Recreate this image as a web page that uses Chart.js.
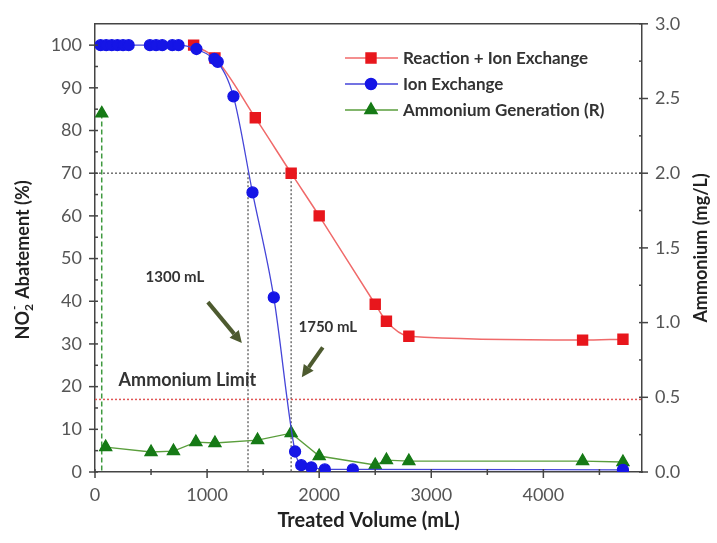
<!DOCTYPE html>
<html lang="en">
<head>
    <meta charset="UTF-8">
    <script src="https://cdn.jsdelivr.net/npm/chart.js"></script>
    <title>NO2- Abatement vs Treated Volume</title>
    <style>
        html, body { margin: 0; padding: 0; background: #fff; }
        #wrap { width: 717px; height: 543px; }
    </style>
</head>
<body>
    <div id="wrap"><canvas id="myChart" width="717" height="543"></canvas></div>
    <script>
        // Ion exchange only (left axis, %)
        const ionVolume = [50, 100, 150, 200, 250, 300, 490, 545, 600, 690, 745, 905, 1065, 1095, 1235, 1405, 1595, 1785, 1840, 1930, 2050, 2300, 4710];
        const ionAbatement = [100, 100, 100, 100, 100, 100, 100, 100, 100, 100, 100, 99.1, 96.8, 96.1, 88, 65.5, 40.9, 4.8, 1.6, 1.1, 0.6, 0.6, 0.5];

        // Reaction + ion exchange (left axis, %)
        const reactVolume = [880, 1070, 1430, 1750, 2000, 2500, 2600, 2800, 4350, 4710];
        const reactAbatement = [100, 97, 83, 70, 60, 39.3, 35.3, 31.8, 30.9, 31.1];

        // Ammonium generated by the reaction (right axis, mg/L)
        const ammVolume = [60, 95, 500, 700, 900, 1070, 1450, 1750, 2000, 2500, 2600, 2800, 4350, 4710];
        const ammConc = [2.40, 0.167, 0.134, 0.14, 0.20, 0.194, 0.214, 0.26, 0.107, 0.047, 0.08, 0.073, 0.073, 0.067];

        // tick labels
        const xTicks = [0, 1000, 2000, 3000, 4000];
        const yTicks = [0, 10, 20, 30, 40, 50, 60, 70, 80, 90, 100];
        const y1Ticks = [0, 0.5, 1, 1.5, 2, 2.5, 3];

        // reference levels
        const breakLevel = 70;             // % abatement
        const breakVolumes = [1365, 1750]; // mL
        const limitLevel = 17;             // % scale, = 0.5 mg/L ammonium limit

        const xMax = 4880, yMax = 105, y1Max = 3;

        const FONT = 'Lato, "DejaVu Sans", sans-serif';
        const AXIS = '#444';
        const xy = (xs, ys) => xs.map((v, i) => ({ x: v, y: ys[i] }));

        function line(ctx, x1, y1, x2, y2) {
            ctx.beginPath(); ctx.moveTo(x1, y1); ctx.lineTo(x2, y2); ctx.stroke();
        }

        function arrow(ctx, x1, y1, x2, y2) {
            const ang = Math.atan2(y2 - y1, x2 - x1);
            const hl = 12, hw = 6;
            const bx = x2 - hl * Math.cos(ang), by = y2 - hl * Math.sin(ang);
            ctx.lineWidth = 4;
            line(ctx, x1, y1, bx, by);
            ctx.beginPath();
            ctx.moveTo(x2, y2);
            ctx.lineTo(bx + hw * Math.sin(ang), by - hw * Math.cos(ang));
            ctx.lineTo(bx - hw * Math.sin(ang), by + hw * Math.cos(ang));
            ctx.closePath();
            ctx.fill();
        }

        const legendItems = [
            { text: 'Reaction + Ion Exchange', line: '#f06a6a', fill: '#e8161c', style: 'rect', r: 7 },
            { text: 'Ion Exchange', line: '#4545d8', fill: '#1515e6', style: 'circle', r: 5.5 },
            { text: 'Ammonium Generation (R)', line: '#5a9e3c', fill: '#167a16', style: 'triangle', r: 7 }
        ];

        const overlay = {
            id: 'overlay',
            beforeDatasetsDraw(chart) {
                const { ctx, chartArea: a, scales: { x, y, y1 } } = chart;
                ctx.save();
                ctx.lineWidth = 1.5;
                ctx.setLineDash([2, 2]);
                ctx.strokeStyle = '#707070';
                const y70 = y.getPixelForValue(breakLevel);
                line(ctx, a.left, y70, a.right, y70);
                breakVolumes.forEach(v => {
                    const px = x.getPixelForValue(v);
                    line(ctx, px, y70, px, a.bottom);
                });
                ctx.strokeStyle = '#e05656';
                const yl = y.getPixelForValue(limitLevel);
                line(ctx, a.left, yl, a.right, yl);
                // drop line under the first ammonium point
                ctx.setLineDash([5, 3]);
                ctx.strokeStyle = '#3f9a3f';
                const gx = x.getPixelForValue(ammVolume[0]);
                line(ctx, gx, y1.getPixelForValue(ammConc[0]), gx, a.bottom);
                ctx.restore();
            },
            afterDatasetsDraw(chart) {
                const { ctx, chartArea: a, scales: { x, y, y1 } } = chart;
                ctx.save();

                // frame + tick marks
                ctx.strokeStyle = AXIS;
                ctx.lineWidth = 1.5;
                line(ctx, a.left, a.top, a.right, a.top);
                for (let v = 0; v <= xMax; v += 500) {
                    const px = x.getPixelForValue(v);
                    const major = v % 1000 === 0;
                    line(ctx, px, a.bottom - 3, px, a.bottom + (major ? 6 : 3));
                }
                for (let v = 0; v <= 100; v += 5) {
                    const py = y.getPixelForValue(v);
                    const major = v % 10 === 0;
                    line(ctx, a.left - (major ? 6 : 0), py, a.left + 3, py);
                }
                for (let v = 0; v <= y1Max + 1e-9; v += 0.25) {
                    const py = y1.getPixelForValue(v);
                    const major = Math.abs(v * 2 - Math.round(v * 2)) < 1e-6;
                    line(ctx, a.right - 3, py, a.right + (major ? 6 : 0), py);
                }

                // arrows and notes
                ctx.fillStyle = ctx.strokeStyle = '#4d5a2f';
                arrow(ctx, x.getPixelForValue(1007), y.getPixelForValue(39.8), x.getPixelForValue(1310), y.getPixelForValue(30.2));
                arrow(ctx, x.getPixelForValue(2032), y.getPixelForValue(29.2), x.getPixelForValue(1845), y.getPixelForValue(22.2));

                ctx.fillStyle = '#333';
                ctx.font = 'bold 15px ' + FONT;
                ctx.textAlign = 'center';
                ctx.textBaseline = 'middle';
                ctx.fillText('1300 mL', x.getPixelForValue(713), y.getPixelForValue(45.6));
                ctx.fillText('1750 mL', x.getPixelForValue(2077), y.getPixelForValue(33.9));
                ctx.font = 'bold 18px ' + FONT;
                ctx.fillText('Ammonium Limit', x.getPixelForValue(824), y.getPixelForValue(21.5));

                // legend
                ctx.textAlign = 'left';
                ctx.font = 'bold 17px ' + FONT;
                legendItems.forEach((it, i) => {
                    const ly = 58 + i * 26;
                    ctx.strokeStyle = it.line;
                    ctx.lineWidth = 1.5;
                    line(ctx, 345, ly, 398, ly);
                    ctx.fillStyle = it.fill;
                    ctx.strokeStyle = it.fill;
                    Chart.helpers.drawPoint(ctx, { pointStyle: it.style, radius: it.r, borderWidth: 1 }, 371, ly);
                    ctx.fillStyle = '#333';
                    ctx.fillText(it.text, 403, ly + 1);
                });

                // axis titles
                ctx.fillStyle = '#222';
                ctx.textBaseline = 'middle';
                ctx.font = 'bold 20px ' + FONT;
                ctx.textAlign = 'center';
                ctx.fillText('Treated Volume (mL)', (a.left + a.right) / 2, 521);

                ctx.font = 'bold 18px ' + FONT;
                ctx.save();
                ctx.translate(701, (a.top + a.bottom) / 2);
                ctx.rotate(-Math.PI / 2);
                ctx.fillText('Ammonium (mg/L)', 0, 0);
                ctx.restore();

                ctx.save();
                ctx.translate(23, (a.top + a.bottom) / 2 + 12);
                ctx.rotate(-Math.PI / 2);
                const big = 'bold 18px ' + FONT, small = 'bold 12px ' + FONT;
                ctx.font = big;
                const wNO = ctx.measureText('NO').width;
                const wRest = ctx.measureText(' Abatement (%)').width;
                ctx.font = small;
                const w2 = ctx.measureText('2').width + 1;
                let sx = -(wNO + w2 + wRest) / 2;
                ctx.textAlign = 'left';
                ctx.font = big;
                ctx.fillText('NO', sx, 0);
                ctx.font = small;
                ctx.fillText('2', sx + wNO, 6);
                ctx.fillText('-', sx + wNO + 1, -9);
                ctx.font = big;
                ctx.fillText(' Abatement (%)', sx + wNO + w2, 0);
                ctx.restore();

                ctx.restore();
            }
        };

        const tickFont = { family: FONT, size: 18 };
        const fixTicks = values => scale => { scale.ticks = values.map(v => ({ value: v })); };

        const ctx = document.getElementById('myChart').getContext('2d');
        const chart = new Chart(ctx, {
            type: 'scatter',
            data: {
                datasets: [{
                    label: 'Ion Exchange',
                    data: xy(ionVolume, ionAbatement),
                    yAxisID: 'y',
                    showLine: true,
                    cubicInterpolationMode: 'monotone',
                    borderColor: '#4545d8',
                    borderWidth: 1.3,
                    backgroundColor: '#1515e6',
                    pointBorderColor: '#1515e6',
                    pointStyle: 'circle',
                    pointRadius: 5.5,
                    order: 0
                }, {
                    label: 'Ammonium Generation (R)',
                    data: xy(ammVolume, ammConc),
                    yAxisID: 'y1',
                    showLine: true,
                    borderColor: '#5a9e3c',
                    borderWidth: 1.3,
                    backgroundColor: '#167a16',
                    pointBorderColor: '#167a16',
                    pointStyle: 'triangle',
                    pointRadius: 7,
                    segment: {
                        borderColor: c => c.p0DataIndex === 0 ? 'rgba(0,0,0,0)' : undefined
                    },
                    order: 1
                }, {
                    label: 'Reaction + Ion Exchange',
                    data: xy(reactVolume, reactAbatement),
                    yAxisID: 'y',
                    showLine: true,
                    cubicInterpolationMode: 'monotone',
                    borderColor: '#f06a6a',
                    borderWidth: 1.5,
                    backgroundColor: '#e8161c',
                    pointBorderColor: '#e8161c',
                    pointStyle: 'rect',
                    pointRadius: 7,
                    order: 2
                }]
            },
            options: {
                responsive: false,
                animation: false,
                layout: { padding: { top: 23, left: 0, right: 0, bottom: 0 } },
                plugins: { legend: { display: false }, tooltip: { enabled: false } },
                scales: {
                    x: {
                        type: 'linear',
                        min: 0,
                        max: xMax,
                        afterBuildTicks: fixTicks(xTicks),
                        afterFit: s => { s.height = 71; },
                        grid: { display: false, drawTicks: false },
                        border: { display: true, color: AXIS, width: 1.5 },
                        ticks: { padding: 12, color: '#555', font: tickFont, callback: v => String(v) }
                    },
                    y: {
                        position: 'left',
                        min: 0,
                        max: yMax,
                        afterBuildTicks: fixTicks(yTicks),
                        afterFit: s => { s.width = 95; },
                        grid: { display: false, drawTicks: false },
                        border: { display: true, color: AXIS, width: 1.5 },
                        ticks: { padding: 13, color: '#555', font: tickFont, callback: v => String(v) }
                    },
                    y1: {
                        position: 'right',
                        min: 0,
                        max: y1Max,
                        afterBuildTicks: fixTicks(y1Ticks),
                        afterFit: s => { s.width = 75; },
                        grid: { display: false, drawTicks: false },
                        border: { display: true, color: AXIS, width: 1.5 },
                        ticks: { padding: 13, color: '#555', font: tickFont, callback: v => v.toFixed(1) }
                    }
                }
            },
            plugins: [overlay]
        });
    </script>
</body>
</html>
